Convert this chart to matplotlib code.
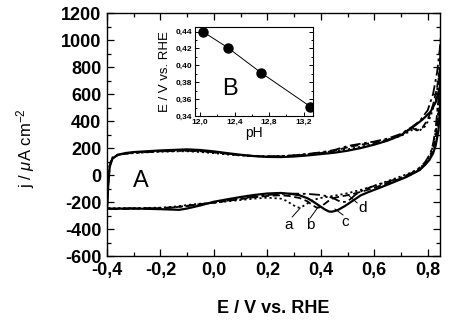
import matplotlib
matplotlib.use("Agg")
import matplotlib.pyplot as plt
from matplotlib.ticker import MultipleLocator, FuncFormatter

plt.rcParams['font.family'] = ['Liberation Sans', 'DejaVu Sans']
plt.rcParams['mathtext.fontset'] = 'custom'
plt.rcParams['mathtext.rm'] = 'Liberation Sans'
plt.rcParams['mathtext.it'] = 'Liberation Sans:italic'
plt.rcParams['mathtext.bf'] = 'Liberation Sans:bold'

# ---- cyclic voltammograms (potential in V vs. RHE, current density in uA cm^-2)
# each loop: anodic sweep from -0.4 V up to 0.85 V, then cathodic sweep back

# curve c (solid)
E_c = [-0.400, -0.395, -0.390, -0.380, -0.360, -0.330, -0.300, -0.250, -0.200, -0.150,
       -0.100, -0.050, 0.000, 0.050, 0.100, 0.150, 0.200, 0.250, 0.300, 0.350, 0.400,
       0.450, 0.500, 0.550, 0.600, 0.650, 0.700, 0.745, 0.780, 0.810, 0.830, 0.845, 0.850,
       0.845, 0.840, 0.830, 0.820, 0.806, 0.790, 0.770, 0.720, 0.670, 0.620, 0.580, 0.550,
       0.520, 0.490, 0.465, 0.450, 0.440, 0.430, 0.415, 0.400, 0.385, 0.370, 0.350, 0.320,
       0.290, 0.250, 0.200, 0.150, 0.100, 0.050, 0.000, -0.050, -0.100, -0.130, -0.200,
       -0.300, -0.400]
J_c = [-250, -60, 60, 120, 150, 163, 170, 176, 182, 186,
       190, 185, 175, 162, 150, 140, 134, 133, 137, 145, 155,
       165, 180, 200, 225, 255, 295, 356, 410, 467, 540, 650, 720,
       470, 330, 220, 160, 111, 75, 37, -15, -55, -95, -125, -150,
       -190, -230, -258, -268, -272, -270, -255, -235, -215, -195, -172, -150,
       -140, -133, -137, -148, -163, -180, -198, -225, -248, -258, -253,
       -248, -250]

# curve a (dotted)
E_a = [-0.400, -0.395, -0.390, -0.380, -0.360, -0.330, -0.300, -0.250, -0.200, -0.150,
       -0.100, -0.050, 0.000, 0.050, 0.100, 0.150, 0.200, 0.250, 0.300, 0.350, 0.400,
       0.450, 0.500, 0.550, 0.600, 0.650, 0.700, 0.730, 0.750, 0.770, 0.790, 0.810, 0.830,
       0.840, 0.850,
       0.845, 0.840, 0.830, 0.820, 0.810, 0.790, 0.770, 0.740, 0.700, 0.650, 0.600, 0.550,
       0.500, 0.460, 0.430, 0.400, 0.370, 0.350, 0.330, 0.320, 0.310, 0.290, 0.270, 0.250,
       0.200, 0.150, 0.100, 0.050, 0.000, -0.050, -0.100, -0.150, -0.200, -0.300, -0.400]
J_a = [-245, -30, 80, 130, 150, 158, 162, 168, 172, 175,
       176, 170, 162, 152, 145, 140, 138, 140, 146, 155, 165,
       178, 190, 210, 230, 258, 290, 320, 345, 330, 360, 430, 560,
       700, 900,
       650, 480, 320, 220, 150, 90, 50, 20, -10, -45, -80, -110,
       -135, -150, -160, -170, -185, -210, -235, -242, -238, -215, -190, -175,
       -168, -175, -185, -195, -205, -212, -222, -235, -242, -245, -245]

# curve b (dashed)
E_b = [-0.400, -0.395, -0.390, -0.380, -0.360, -0.330, -0.300, -0.250, -0.200, -0.150,
       -0.100, -0.050, 0.000, 0.050, 0.100, 0.150, 0.200, 0.250, 0.300, 0.350, 0.400,
       0.450, 0.500, 0.550, 0.600, 0.650, 0.700, 0.740, 0.760, 0.780, 0.800, 0.820, 0.835,
       0.845, 0.850,
       0.845, 0.840, 0.830, 0.820, 0.810, 0.790, 0.770, 0.740, 0.700, 0.650, 0.600, 0.550,
       0.500, 0.470, 0.450, 0.430, 0.410, 0.395, 0.385, 0.370, 0.350, 0.320, 0.280, 0.250,
       0.200, 0.150, 0.100, 0.050, 0.000, -0.050, -0.100, -0.150, -0.200, -0.300, -0.400]
J_b = [-252, -40, 70, 125, 148, 160, 166, 172, 178, 181,
       182, 178, 168, 157, 147, 140, 137, 138, 143, 152, 163,
       180, 205, 225, 240, 262, 300, 350, 330, 350, 410, 520, 650,
       780, 850,
       600, 420, 280, 190, 130, 80, 40, 5, -25, -60, -95, -125,
       -150, -160, -170, -190, -220, -240, -242, -225, -195, -170, -155, -150,
       -155, -165, -178, -192, -205, -215, -228, -240, -245, -250, -252]

# curve d (dash-dot)
E_d = [-0.400, -0.395, -0.390, -0.380, -0.360, -0.330, -0.300, -0.250, -0.200, -0.150,
       -0.100, -0.050, 0.000, 0.050, 0.100, 0.150, 0.200, 0.250, 0.300, 0.350, 0.400,
       0.450, 0.500, 0.550, 0.600, 0.650, 0.700, 0.740, 0.770, 0.800, 0.820, 0.835, 0.845,
       0.850,
       0.845, 0.840, 0.830, 0.820, 0.810, 0.790, 0.770, 0.740, 0.700, 0.650, 0.600, 0.560,
       0.530, 0.510, 0.495, 0.480, 0.465, 0.450, 0.430, 0.400, 0.350, 0.300, 0.250, 0.200,
       0.150, 0.100, 0.050, 0.000, -0.050, -0.100, -0.150, -0.200, -0.300, -0.400]
J_d = [-250, -50, 65, 122, 146, 158, 165, 170, 175, 178,
       180, 176, 168, 158, 148, 141, 138, 140, 146, 156, 168,
       185, 215, 232, 248, 270, 305, 355, 400, 480, 600, 760, 930,
       1050,
       800, 560, 350, 230, 160, 95, 55, 15, -20, -50, -80, -110,
       -145, -180, -198, -200, -190, -175, -160, -148, -140, -138, -140, -148,
       -160, -175, -190, -205, -215, -230, -240, -245, -248, -250]

# ---- inset: peak potential vs. pH
pH = [12.03, 12.32, 12.71, 13.28]
E_peak = [0.440, 0.421, 0.391, 0.351]

# ---- labels for the curves (text position, leader start, leader end)
curve_names = ['a', 'b', 'c', 'd']
name_xy = [(0.278, -370), (0.360, -370), (0.490, -350), (0.555, -244)]
leader_from = [(0.293, -311), (0.360, -319), (0.483, -296), (0.536, -207)]
leader_to = [(0.323, -244), (0.390, -237), (0.453, -252), (0.502, -148)]

x_ticks = [-0.4, -0.2, 0.0, 0.2, 0.4, 0.6, 0.8]
y_ticks = [-600, -400, -200, 0, 200, 400, 600, 800, 1000, 1200]
pH_ticks = [12.0, 12.4, 12.8, 13.2]
Ep_ticks = [0.34, 0.36, 0.38, 0.40, 0.42, 0.44]


def comma(fmt):
    return FuncFormatter(lambda v, p: (fmt % v).replace('.', ',').replace('\u2212', '-'))


fig = plt.figure(figsize=(4.54, 3.23), dpi=100)
ax = fig.add_axes([0.2357, 0.2074, 0.7335, 0.7523])

ax.plot(E_d, J_d, color='black', lw=1.3, ls=(0, (6, 2, 1.5, 2)))
ax.plot(E_b, J_b, color='black', lw=1.3, ls=(0, (4, 2)))
ax.plot(E_a, J_a, color='black', lw=1.3, ls=(0, (1.2, 1.6)))
ax.plot(E_c, J_c, color='black', lw=1.6, ls='-')

for name, txy, p0, p1 in zip(curve_names, name_xy, leader_from, leader_to):
    ax.plot([p0[0], p1[0]], [p0[1], p1[1]], color='black', lw=0.7)
    ax.text(txy[0], txy[1], name, fontsize=11, ha='center', va='center')

ax.text(-0.272, -44, 'A', fontsize=17, ha='center', va='center')

ax.set_xlim(-0.4, 0.846)
ax.set_ylim(-600, 1200)
ax.set_xticks(x_ticks)
ax.set_yticks(y_ticks)
ax.xaxis.set_minor_locator(MultipleLocator(0.1))
ax.yaxis.set_minor_locator(MultipleLocator(100))
ax.xaxis.set_major_formatter(comma('%.1f'))
ax.yaxis.set_major_formatter(FuncFormatter(lambda v, p: '%d' % v))
ax.tick_params(which='both', direction='in', top=True, right=True, width=0.9)
ax.tick_params(which='major', length=5, labelsize=13, pad=4)
ax.tick_params(which='minor', length=3)
for lab in ax.get_xticklabels() + ax.get_yticklabels():
    lab.set_fontweight('bold')
for s in ax.spines.values():
    s.set_linewidth(1.0)

ax.set_xlabel('E / V vs. RHE', fontsize=13, fontweight='bold')
ax.xaxis.set_label_coords(0.5, -0.18)
ax.set_ylabel(r'j / $\mu$A cm$^{-2}$', fontsize=12)
ax.yaxis.set_label_coords(-0.21, 0.444)

# inset
ins = fig.add_axes([0.4295, 0.641, 0.26, 0.2755])
ins.plot(pH, E_peak, color='black', lw=0.7, marker='o', ms=6.5,
         markerfacecolor='black', markeredgecolor='black')
ins.set_xlim(11.94, 13.31)
ins.set_ylim(0.34, 0.4455)
ins.set_xticks(pH_ticks)
ins.set_yticks(Ep_ticks)
ins.xaxis.set_minor_locator(MultipleLocator(0.2))
ins.yaxis.set_minor_locator(MultipleLocator(0.01))
ins.xaxis.set_major_formatter(comma('%.1f'))
ins.yaxis.set_major_formatter(comma('%.2f'))
ins.tick_params(which='both', direction='in', right=True, top=False, width=0.7)
ins.tick_params(which='major', length=3, labelsize=6, pad=2)
ins.tick_params(which='minor', length=1.5)
for lab in ins.get_xticklabels() + ins.get_yticklabels():
    lab.set_fontweight('bold')
for s in ins.spines.values():
    s.set_linewidth(0.8)
ins.set_xlabel('pH', fontsize=10, labelpad=0)
ins.set_ylabel('E / V vs. RHE', fontsize=9.5, labelpad=3)
ins.text(12.34, 0.372, 'B', fontsize=17, ha='center', va='center')

fig.savefig('out.png', dpi=100)
